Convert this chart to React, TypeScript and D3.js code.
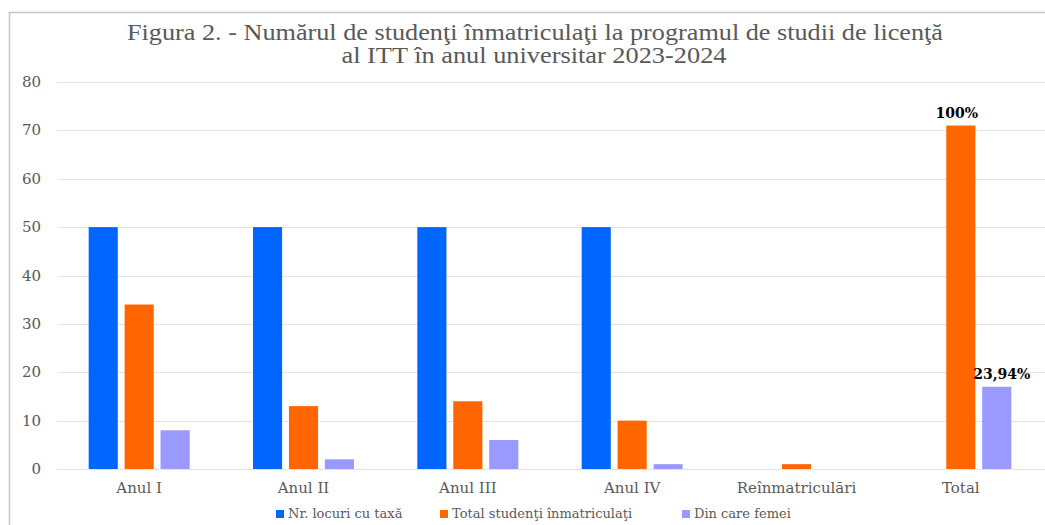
import React from 'react';
import * as d3 from 'd3';

// categories on the x axis
const categories = ['Anul I', 'Anul II', 'Anul III', 'Anul IV', 'Reînmatriculări', 'Total'];
const seriesNames = ['Nr. locuri cu taxă', 'Total studenţi înmatriculaţi', 'Din care femei'];
const seriesColors = ['#0066ff', '#ff6600', '#9999ff'];

// values per series (same order as categories), null = no bar
const locuriTaxa = [50, 50, 50, 50, null, null];
const totalStudenti = [34, 13, 14, 10, 1, 71];
const dinCareFemei = [8, 2, 6, 1, null, 17];

// labels over the Total bars
const totalLabels = ['', '100%', '23,94%'];

const yTicks = [0, 10, 20, 30, 40, 50, 60, 70, 80];

const W = 1045, H = 525;
const SERIF = "'DejaVu Serif', serif";
const TITLE_FONT = "'Liberation Serif', serif";

export default function App() {
  const series = [locuriTaxa, totalStudenti, dinCareFemei];

  const x = d3.scaleBand<string>().domain(categories).range([57, 1043]);
  const x1 = d3.scaleBand<number>().domain([0, 1, 2]).range([0, 101]).paddingInner(0.19);
  const y = d3.scaleLinear().domain([0, 80]).range([469, 82]);
  const groupOffset = (x.bandwidth() - 101) / 2;

  return (
    <svg width={W} height={H} style={{ position: 'absolute', left: 0, top: 0, background: '#fff' }}>
      <rect x={0} y={0} width={W} height={H} fill="#fff" />
      {/* frame */}
      <path d={`M9.5,${H} L9.5,12.5 L${W},12.5`} fill="none" stroke="#c4c4c4" strokeWidth={1.5} />

      {/* title */}
      <text x={535} y={40} textAnchor="middle" fontFamily={TITLE_FONT} fontSize={23} fill="#595959"
        textLength={816} lengthAdjust="spacingAndGlyphs">
        Figura 2. - Numărul de studenţi înmatriculaţi la programul de studii de licenţă
      </text>
      <text x={534} y={63} textAnchor="middle" fontFamily={TITLE_FONT} fontSize={23} fill="#595959"
        textLength={385} lengthAdjust="spacingAndGlyphs">
        al ITT în anul universitar 2023-2024
      </text>

      {/* grid + y ticks */}
      {yTicks.map(t => (
        <g key={t}>
          <line x1={57} x2={W} y1={Math.round(y(t)) + 0.5} y2={Math.round(y(t)) + 0.5} stroke="#e3e3e3" strokeWidth={1} />
          <text x={41} y={y(t) + 5} textAnchor="end" fontFamily={SERIF} fontSize={15} fill="#595959">{t}</text>
        </g>
      ))}

      {/* bars */}
      {series.map((vals, si) =>
        vals.map((v, ci) =>
          v == null ? null : (
            <rect key={si + '-' + ci}
              x={(x(categories[ci]) || 0) + groupOffset + (x1(si) || 0)}
              y={y(v)}
              width={x1.bandwidth()}
              height={y(0) - y(v)}
              fill={seriesColors[si]} />
          )
        )
      )}

      {/* data labels on Total */}
      {series.map((vals, si) => totalLabels[si] ? (
        <text key={'lbl' + si}
          x={(x('Total') || 0) + groupOffset + (x1(si) || 0) + x1.bandwidth() / 2 + (si === 1 ? -4 : 5)}
          y={y(vals[5] as number) - 8}
          textAnchor="middle" fontFamily={SERIF} fontWeight="bold" fontSize={14} fill="#000">
          {totalLabels[si]}
        </text>
      ) : null)}

      {/* category labels */}
      {categories.map(c => (
        <text key={c} x={(x(c) || 0) + x.bandwidth() / 2} y={493} textAnchor="middle"
          fontFamily={SERIF} fontSize={15} fill="#595959">{c}</text>
      ))}

      {/* legend */}
      {seriesNames.map((s, i) => {
        const lx = [276, 440, 682][i];
        return (
          <g key={s}>
            <rect x={lx} y={510} width={8} height={8} fill={seriesColors[i]} />
            <text x={lx + 12} y={518} fontFamily={SERIF} fontSize={13} fill="#595959">{s}</text>
          </g>
        );
      })}
    </svg>
  );
}
